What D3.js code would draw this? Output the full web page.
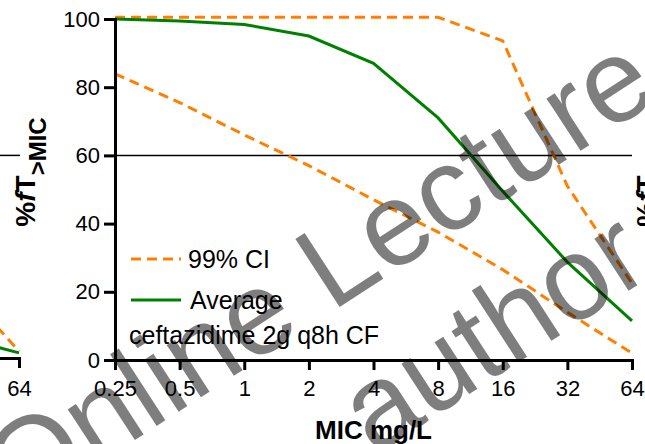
<!DOCTYPE html>
<html>
<head>
<meta charset="utf-8">
<script src="https://cdn.jsdelivr.net/npm/d3@7"></script>
<style>
  html, body { margin: 0; padding: 0; background: #fff; }
  svg { display: block; }
  text { font-family: "Liberation Sans", Arial, Helvetica, sans-serif; }
</style>
</head>
<body>
<svg id="chart" width="645" height="444"></svg>
<script>
// MIC values (mg/L) on the x axis
const mic = [0.25, 0.5, 1, 2, 4, 8, 16, 32, 64];
const micLabels = ["0.25", "0.5", "1", "2", "4", "8", "16", "32", "64"];
// %fT>MIC, ceftazidime 2 g q8h in CF
const average = [100, 99.4, 98.4, 95.0, 87.0, 71.0, 49.5, 28.7, 11.5];
const ciUpper = [100.5, 100.5, 100.5, 100.5, 100.5, 100.5, 93.6, 51.0, 22.5];
const ciLower = [83.9, 75.5, 66.0, 57.0, 47.0, 37.5, 26.5, 14.0, 2.0];
const yTicks = [0, 20, 40, 60, 80, 100];
const target = 60;
// tail of the neighbouring panel (last two MIC points)
const prevMic = [32, 64];
const prevAverage = [6.5, 1.5];
const prevUpper = [23.0, 2.0];

const ORANGE = "#FF8000";
const GREEN = "#008000";

const svg = d3.select("#chart");

const x = d3.scaleLog().base(2).domain([0.25, 64]).range([115, 632]);
const y = d3.scaleLinear().domain([0, 100]).range([360, 19]);

const line = d3.line().x(d => x(d[0])).y(d => y(d[1]));

// --- neighbouring panel on the left (only its right edge is in view)
const xPrev = d3.scaleLog().base(2).domain([32, 64]).range([19 - 64.6, 19]);
const yPrev = d3.scaleLinear().domain([0, 100]).range([358, 17]);
const gPrev = svg.append("g");
gPrev.append("line").attr("x1", 0).attr("x2", 20)
  .attr("y1", y(target)).attr("y2", y(target))
  .attr("stroke", "#000").attr("stroke-width", 1.5);
const linePrev = d3.line().x(d => xPrev(d[0])).y(d => yPrev(d[1]));
gPrev.append("path").datum(d3.zip(prevMic, prevUpper)).attr("d", linePrev)
  .attr("fill", "none").attr("stroke", ORANGE).attr("stroke-width", 3).attr("stroke-dasharray", "10,6");
gPrev.append("path").datum(d3.zip(prevMic, prevAverage)).attr("d", linePrev)
  .attr("fill", "none").attr("stroke", GREEN).attr("stroke-width", 3);
const axPrev = gPrev.append("g").attr("transform", `translate(0,${yPrev(0)})`)
  .call(d3.axisBottom(xPrev).tickValues([64]).tickFormat(() => "64").tickSize(10).tickSizeOuter(0).tickPadding(12));

// --- target line
svg.append("line")
  .attr("x1", x(0.25)).attr("x2", x(64))
  .attr("y1", y(target)).attr("y2", y(target))
  .attr("stroke", "#000").attr("stroke-width", 1.5);

// --- series
svg.append("path").datum(d3.zip(mic, ciLower)).attr("d", line)
  .attr("fill", "none").attr("stroke", ORANGE).attr("stroke-width", 3).attr("stroke-dasharray", "10,6");
svg.append("path").datum(d3.zip(mic, ciUpper)).attr("d", line)
  .attr("fill", "none").attr("stroke", ORANGE).attr("stroke-width", 3).attr("stroke-dasharray", "10,6");
svg.append("path").datum(d3.zip(mic, average)).attr("d", line)
  .attr("fill", "none").attr("stroke", GREEN).attr("stroke-width", 3);

// --- axes
const axY = svg.append("g").attr("transform", `translate(${x(0.25)},0)`)
  .call(d3.axisLeft(y).tickValues(yTicks).tickSize(11).tickSizeOuter(0).tickPadding(4));
const axX = svg.append("g").attr("transform", `translate(0,${y(0)})`)
  .call(d3.axisBottom(x).tickValues(mic).tickFormat((d, i) => micLabels[i]).tickSize(10).tickSizeOuter(0).tickPadding(10));

[axY, axX, axPrev].forEach(g => {
  g.selectAll(".domain").attr("stroke", "#000").attr("stroke-width", 3).attr("stroke-linecap", "square");
  g.selectAll(".tick line").attr("stroke", "#000").attr("stroke-width", 3);
  g.selectAll(".tick text").attr("fill", "#000").style("font-size", "22px")
    .style("font-family", '"Liberation Sans", Arial, sans-serif');
});

// --- axis titles
svg.append("text")
  .attr("x", (x(0.25) + x(64)) / 2).attr("y", 439)
  .attr("text-anchor", "middle")
  .style("font-size", "26px").style("font-weight", "bold")
  .text("MIC mg/L");

function yTitle(cx) {
  const t = svg.append("text")
    .attr("transform", `translate(${cx},172) rotate(-90)`)
    .attr("text-anchor", "middle")
    .style("font-size", "28px").style("font-weight", "bold");
  t.append("tspan").text("%");
  t.append("tspan").style("font-style", "italic").text("f");
  t.append("tspan").text("T");
  t.append("tspan").attr("dy", 11).style("font-size", "24px").text(">MIC");
}
yTitle(35);
yTitle(35 + 621);

// --- legend
const legend = svg.append("g").style("font-size", "25px");
legend.append("line").attr("x1", 131).attr("x2", 181).attr("y1", 259).attr("y2", 259)
  .attr("stroke", ORANGE).attr("stroke-width", 3).attr("stroke-dasharray", "10,6");
legend.append("text").attr("x", 188).attr("y", 268).text("99% CI");
legend.append("line").attr("x1", 131).attr("x2", 181).attr("y1", 300).attr("y2", 300)
  .attr("stroke", GREEN).attr("stroke-width", 3);
legend.append("text").attr("x", 190).attr("y", 309).text("Average");
legend.append("text").attr("x", 129).attr("y", 344).text("ceftazidime 2g q8h CF");

// --- watermark
const wm = svg.append("g").attr("opacity", 0.5).attr("fill", "#000")
  .style("font-size", "118px");
wm.append("text").attr("transform", "translate(18,516) rotate(-33)").text("Online Lecture");
wm.append("text").attr("transform", "translate(374,456) rotate(-33)").text("author");
</script>
</body>
</html>
